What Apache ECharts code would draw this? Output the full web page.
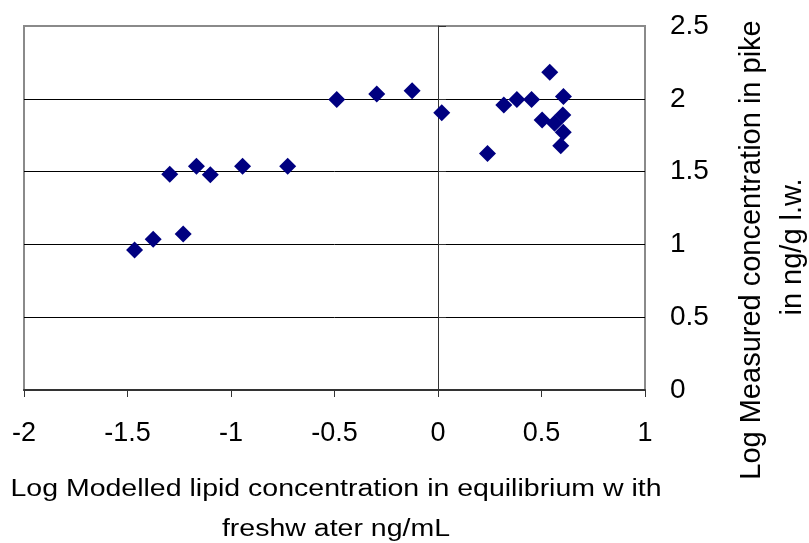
<!DOCTYPE html>
<html>
<head>
<meta charset="utf-8">
<script src="https://cdn.jsdelivr.net/npm/echarts@6/dist/echarts.min.js"></script>
<style>
html,body{margin:0;padding:0;background:#fff;}
#chart{width:809px;height:543px;}
</style>
</head>
<body>
<div id="chart"></div>
<script>
// Log modelled lipid concentration (x) vs log measured concentration in pike (y)
var xValues = [-1.466, -1.376, -1.231, -1.296, -1.167, -1.10, -0.944, -0.726, -0.489, -0.296, -0.125,
               0.018, 0.239, 0.318, 0.381, 0.452, 0.540, 0.606, 0.503, 0.603, 0.563, 0.605, 0.593];
var yValues = [0.962, 1.035, 1.071, 1.481, 1.536, 1.479, 1.536, 1.536, 1.996, 2.033, 2.056,
               1.905, 1.625, 1.957, 1.996, 1.996, 2.182, 2.015, 1.854, 1.889, 1.832, 1.770, 1.678];
var xTitleLines = ['Log Modelled lipid concentration in equilibrium w ith', 'freshw ater ng/mL'];
var yTitleLines = ['Log Measured concentration in pike', 'in ng/g l.w.'];
var xMin = -2, xMax = 1, xStep = 0.5;
var yMin = 0, yMax = 2.5, yStep = 0.5;

var points = xValues.map(function (x, i) { return [x, yValues[i]]; });
var FONT = '"Liberation Sans", Arial, Helvetica, sans-serif';

var chart = echarts.init(document.getElementById('chart'), null, {renderer: 'canvas'});
chart.setOption({
  animation: false,
  backgroundColor: '#ffffff',
  grid: {
    left: 24, right: 164, top: 26, bottom: 153,
    show: true, borderColor: '#8a8a8a', borderWidth: 2, backgroundColor: 'transparent'
  },
  xAxis: {
    type: 'value', min: xMin, max: xMax, interval: xStep,
    axisLine: {show: true, onZero: false, lineStyle: {color: '#333', width: 2}},
    axisTick: {show: true, length: 7, lineStyle: {color: '#333', width: 1}},
    axisLabel: {fontSize: 27, fontFamily: FONT, color: '#000', margin: 30},
    splitLine: {show: false}
  },
  yAxis: [{
    type: 'value', min: yMin, max: yMax, interval: yStep, position: 'right',
    axisLine: {show: false, onZero: false},
    axisTick: {show: false},
    axisLabel: {fontSize: 28, fontFamily: FONT, color: '#000', margin: 25, align: 'left'},
    splitLine: {show: true, showMinLine: false, showMaxLine: false, lineStyle: {color: '#000', width: 1}}
  }, {
    type: 'value', min: yMin, max: yMax, interval: yStep, position: 'left',
    axisLine: {show: true, onZero: true, onZeroAxisIndex: 0, lineStyle: {color: '#333', width: 1}},
    axisTick: {show: true, inside: true, length: 8, lineStyle: {color: '#333', width: 1}},
    axisLabel: {show: false},
    splitLine: {show: false}
  }],
  series: [{
    type: 'scatter',
    yAxisIndex: 0,
    symbol: 'diamond',
    symbolSize: 17,
    itemStyle: {color: '#000080', opacity: 1},
    emphasis: {disabled: true},
    data: points
  }],
  graphic: [
    {type: 'text', x: 336, y: 490, scaleY: 0.82, style: {text: xTitleLines[0], fontSize: 28.5, fontFamily: FONT, fill: '#000', align: 'center', verticalAlign: 'middle'}},
    {type: 'text', x: 336, y: 530, scaleY: 0.82, style: {text: xTitleLines[1], fontSize: 28.5, fontFamily: FONT, fill: '#000', align: 'center', verticalAlign: 'middle'}},
    {type: 'text', x: 752, y: 250, rotation: Math.PI / 2, style: {text: yTitleLines[0], fontSize: 29, fontFamily: FONT, fill: '#000', align: 'center', verticalAlign: 'middle'}},
    {type: 'text', x: 793, y: 247, rotation: Math.PI / 2, style: {text: yTitleLines[1], fontSize: 29, fontFamily: FONT, fill: '#000', align: 'center', verticalAlign: 'middle'}}
  ]
});
</script>
</body>
</html>
